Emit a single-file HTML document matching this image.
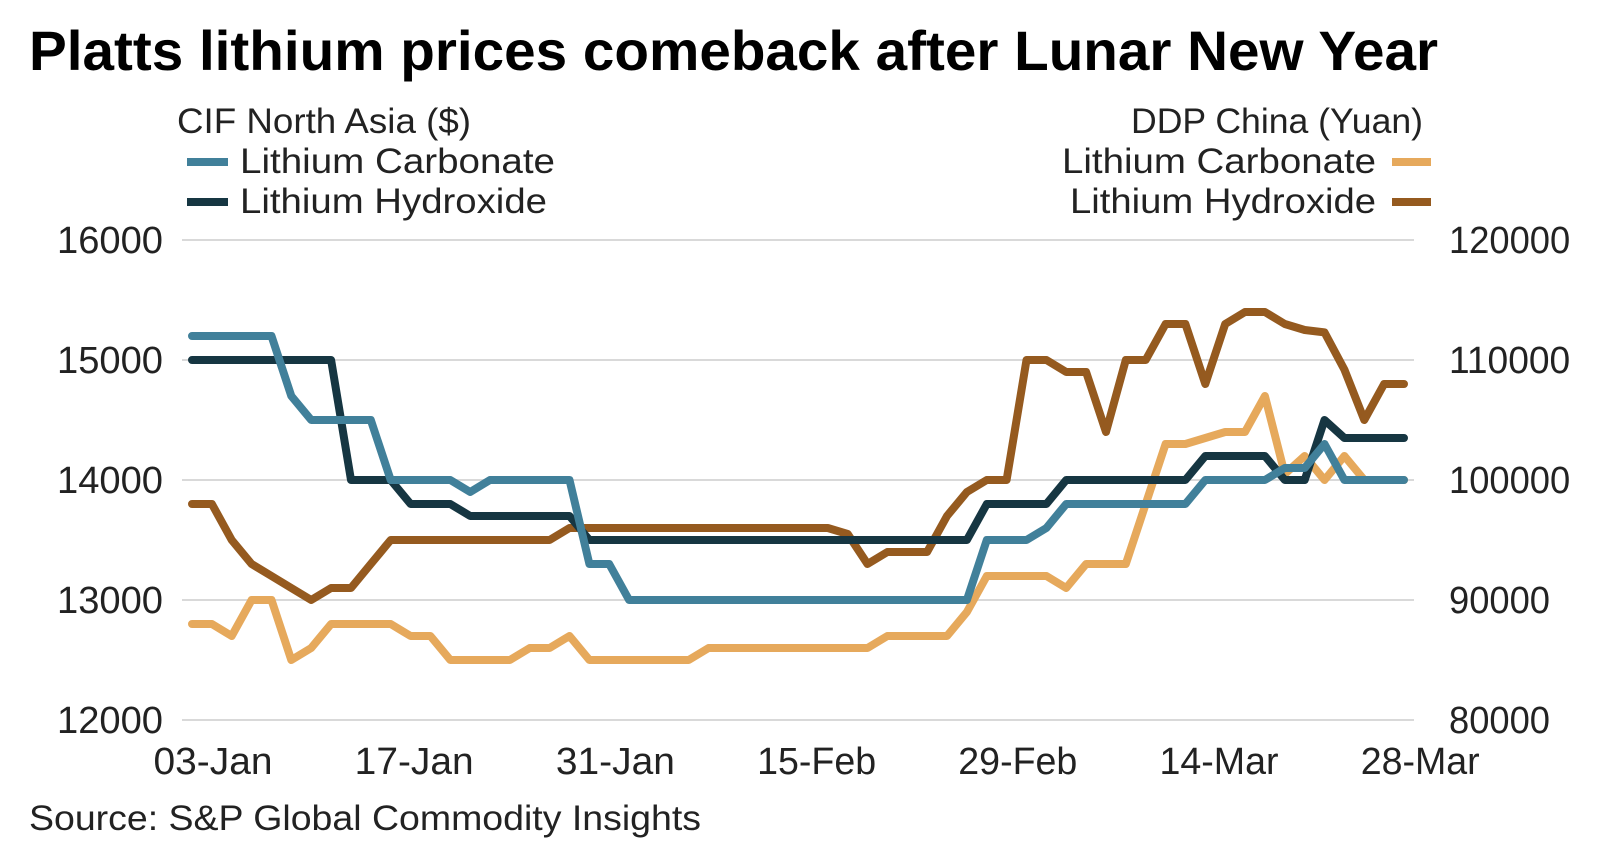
<!DOCTYPE html>
<html><head><meta charset="utf-8"><style>
html,body{margin:0;padding:0;background:#fff;}
svg{display:block;font-family:"Liberation Sans",sans-serif;}
</style></head><body>
<svg id="chart" width="1604" height="858" viewBox="0 0 1604 858">
<text x="29" y="70" font-size="56" font-weight="bold" fill="#000" textLength="1409" lengthAdjust="spacingAndGlyphs">Platts lithium prices comeback after Lunar New Year</text>
<g>
<text x="177" y="133" font-size="35" fill="#222" textLength="294" lengthAdjust="spacingAndGlyphs">CIF North Asia ($)</text>
<rect x="187" y="158" width="41" height="8" fill="#41809a"/>
<text x="240" y="173" font-size="35" fill="#222" textLength="315" lengthAdjust="spacingAndGlyphs">Lithium Carbonate</text>
<rect x="187" y="198" width="41" height="8" fill="#163642"/>
<text x="240" y="213" font-size="35" fill="#222" textLength="307" lengthAdjust="spacingAndGlyphs">Lithium Hydroxide</text>
</g>
<g>
<text x="1131" y="133" font-size="35" fill="#222" textLength="292" lengthAdjust="spacingAndGlyphs">DDP China (Yuan)</text>
<text x="1062" y="173" font-size="35" fill="#222" textLength="314" lengthAdjust="spacingAndGlyphs">Lithium Carbonate</text>
<rect x="1392" y="158" width="39" height="8" fill="#e6a95c"/>
<text x="1070" y="213" font-size="35" fill="#222" textLength="306" lengthAdjust="spacingAndGlyphs">Lithium Hydroxide</text>
<rect x="1392" y="198" width="39" height="8" fill="#955a1f"/>
</g>
<g id="grid"></g>
<g id="axes"></g>
<g id="series"></g>
<text x="29" y="830" font-size="35" fill="#222" textLength="672" lengthAdjust="spacingAndGlyphs">Source: S&amp;P Global Commodity Insights</text>
</svg>
<script>
const xLabels = ["03-Jan","17-Jan","31-Jan","15-Feb","29-Feb","14-Mar","28-Mar"];
const leftTicks = [12000,13000,14000,15000,16000];
const rightTicks = [80000,90000,100000,110000,120000];
const cifCarbonate = [15200,15200,15200,15200,15200,14700,14500,14500,14500,14500,14000,14000,14000,14000,13900,14000,14000,14000,14000,14000,13300,13300,13000,13000,13000,13000,13000,13000,13000,13000,13000,13000,13000,13000,13000,13000,13000,13000,13000,13000,13500,13500,13500,13600,13800,13800,13800,13800,13800,13800,13800,14000,14000,14000,14000,14100,14100,14300,14000,14000,14000,14000];
const cifHydroxide = [15000,15000,15000,15000,15000,15000,15000,15000,14000,14000,14000,13800,13800,13800,13700,13700,13700,13700,13700,13700,13500,13500,13500,13500,13500,13500,13500,13500,13500,13500,13500,13500,13500,13500,13500,13500,13500,13500,13500,13500,13800,13800,13800,13800,14000,14000,14000,14000,14000,14000,14000,14200,14200,14200,14200,14000,14000,14500,14350,14350,14350,14350];
const ddpCarbonate = [88000,88000,87000,90000,90000,85000,86000,88000,88000,88000,88000,87000,87000,85000,85000,85000,85000,86000,86000,87000,85000,85000,85000,85000,85000,85000,86000,86000,86000,86000,86000,86000,86000,86000,86000,87000,87000,87000,87000,89000,92000,92000,92000,92000,91000,93000,93000,93000,98000,103000,103000,103500,104000,104000,107000,100500,102000,100000,102000,100000,100000,100000];
const ddpHydroxide = [98000,98000,95000,93000,92000,91000,90000,91000,91000,93000,95000,95000,95000,95000,95000,95000,95000,95000,95000,96000,96000,96000,96000,96000,96000,96000,96000,96000,96000,96000,96000,96000,96000,95500,93000,94000,94000,94000,97000,99000,100000,100000,110000,110000,109000,109000,104000,110000,110000,113000,113000,108000,113000,114000,114000,113000,112500,112300,109200,105000,108000,108000];

const NS="http://www.w3.org/2000/svg";
const X0=192, X1=1404, N=cifCarbonate.length;
const xScale=i=>X0+(X1-X0)*i/(N-1);
const yLeft=v=>720-(v-12000)*480/4000;
const yRight=v=>720-(v-80000)*480/40000;
const grid=document.getElementById('grid'), axes=document.getElementById('axes'), series=document.getElementById('series');
function mk(tag,attrs,parent){const e=document.createElementNS(NS,tag);for(const k in attrs)e.setAttribute(k,attrs[k]);parent.appendChild(e);return e;}
leftTicks.forEach((t,i)=>{
  const y=yLeft(t);
  const g=mk('line',{x1:182,x2:1414,y1:y,y2:y,stroke:'#d9d9d9','stroke-width':2},grid);
  
  
  const l=mk('text',{x:163,y:y+13,'font-size':38,'text-anchor':'end',fill:'#222',textLength:106,lengthAdjust:'spacingAndGlyphs'},axes);
  l.textContent=t;
  
  
});
rightTicks.forEach(t=>{
  const y=yRight(t);
  const s=String(t);
  const l=mk('text',{x:1449,y:y+13,'font-size':38,fill:'#222',textLength:s.length*20.2,lengthAdjust:'spacingAndGlyphs'},axes);
  l.textContent=s;
  
  
});
xLabels.forEach((s,i)=>{
  const l=mk('text',{x:213+i*201.2,y:774,'font-size':38,'text-anchor':'middle',fill:'#222',textLength:119,lengthAdjust:'spacingAndGlyphs'},axes);
  l.textContent=s;
  
  
});
function draw(vals,yf,color,name){
  const d=vals.map((v,i)=>(i?'L':'M')+xScale(i).toFixed(1)+','+yf(v).toFixed(1)).join(' ');
  const p=mk('path',{d:d,fill:'none',stroke:color,'stroke-width':8,'stroke-linejoin':'round','stroke-linecap':'round'},series);
  
  
}
draw(ddpHydroxide,yRight,'#955a1f','line-ddp-hydroxide');
draw(ddpCarbonate,yRight,'#e6a95c','line-ddp-carbonate');
draw(cifHydroxide,yLeft,'#163642','line-cif-hydroxide');
draw(cifCarbonate,yLeft,'#41809a','line-cif-carbonate');
</script>
</body></html>
